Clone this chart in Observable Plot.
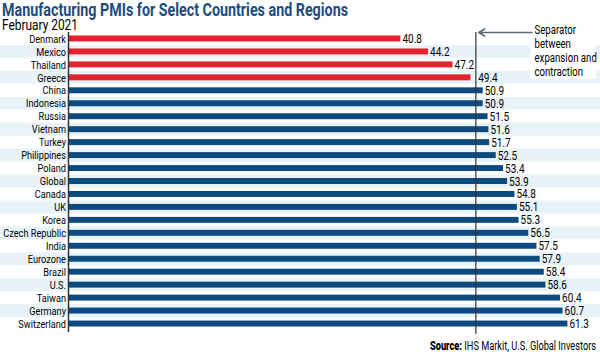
<!DOCTYPE html>
<html>
<head>
<meta charset="utf-8">
<script src="https://cdn.jsdelivr.net/npm/d3@7"></script>
<script src="https://cdn.jsdelivr.net/npm/@observablehq/plot@0.6"></script>
<style>
  html, body { margin: 0; padding: 0; background: #fff; }
  body { width: 600px; height: 354px; overflow: hidden; position: relative; font-family: Roboto, sans-serif; }
  .fit { position: absolute; white-space: nowrap; transform-origin: 0 0; }
  #title { left: 2px; top: 0px; font-weight: bold; font-size: 18px; line-height: 20px; color: #1c4c7d; }
  #subtitle { left: 2px; top: 18px; font-size: 14.5px; line-height: 16px; color: #000; }
  #chart { position: absolute; left: 0; top: 20px; }
  #chart svg { display: block; }
  #caption { top: 339px; font-size: 12.5px; line-height: 14px; color: #000; }
  #caption b { font-weight: 900; }
</style>
</head>
<body>
<div id="chart"></div>
<div id="title" class="fit">Manufacturing PMIs for Select Countries and Regions</div>
<div id="subtitle" class="fit">February 2021</div>
<div id="caption" class="fit"><b>Source:</b> IHS Markit, U.S. Global Investors</div>
<script>
const countries = ["Denmark","Mexico","Thailand","Greece","China","Indonesia","Russia","Vietnam","Turkey","Philippines","Poland","Global","Canada","UK","Korea","Czech Republic","India","Eurozone","Brazil","U.S.","Taiwan","Germany","Switzerland"];
const values = [40.8,44.2,47.2,49.4,50.9,50.9,51.5,51.6,51.7,52.5,53.4,53.9,54.8,55.1,55.3,56.5,57.5,57.9,58.4,58.6,60.4,60.7,61.3];
const separator = [50];
const annotation = ["Separator\nbetween\nexpansion and\ncontraction"];

const red = "#e3222d", blue = "#0d4a7f", band = "#e8f3f8";
const data = countries.map((c, i) => ({country: c, value: values[i]}));
const xMax = 65.3;
const stripes = countries.filter((d, i) => i % 2 === 1);
const arrowData = [{from: 56.9, to: separator[0] + 0.35, row: countries[0]}];
const sep = separator[0];
// a label that would run into the separator line is pushed just past it
const labelX = d => (d.value < sep && d.value > sep - 1.5) ? sep + 0.1 : d.value;

const chart = Plot.plot({
  width: 600,
  height: 314,
  marginTop: 12,
  marginBottom: 4,
  marginLeft: 68,
  marginRight: 0,
  style: {background: "transparent", fontFamily: "Roboto, sans-serif", fontSize: "11.5px", color: "#000"},
  x: {domain: [0, xMax], axis: null},
  y: {domain: countries, padding: 0, round: false, axis: null},
  marks: [
    Plot.barX(stripes, {y: d => d, x1: 0, x2: xMax, insetLeft: -70, fill: band}),
    Plot.barX(["Mexico"], {y: d => d, x1: 56.75, x2: 64.85, fill: "#fff"}),
    Plot.barX(["Greece"], {y: d => d, x1: 56.75, x2: 64.85, insetBottom: 5, fill: "#fff"}),
    Plot.barX(data, {y: "country", x: "value", fill: d => d.value < sep ? red : blue, insetTop: 3.5, insetBottom: 3.5}),
    Plot.text(data, {y: "country", x: labelX, text: d => d.value.toFixed(1), textAnchor: "start", dx: 1.5, fontSize: 12.5}),
    Plot.text(countries, {y: d => d, text: d => d, frameAnchor: "left", textAnchor: "end", dx: -2.5, fontSize: 11.5}),
    Plot.ruleX([0], {stroke: "#333", strokeWidth: 1.5, insetBottom: -2}),
    Plot.ruleX(separator, {stroke: "#333", strokeWidth: 1.2, insetBottom: -4}),
    Plot.arrow(arrowData, {x1: "from", x2: "to", y1: "row", y2: "row", dy: -6.5, stroke: "#5c6b78", strokeWidth: 1.5, headLength: 7, bend: 0}),
    Plot.text(annotation, {x: 57.2, frameAnchor: "top", textAnchor: "start", lineAnchor: "top", lineHeight: 1.1, dy: -8, fontSize: 12.5, fill: "#000"})
  ]
});
document.getElementById("chart").appendChild(chart);

// condense SVG texts (the reference uses a condensed face)
chart.querySelectorAll("text").forEach(t => {
  const spans = t.querySelectorAll("tspan");
  const multi = spans.length > 0;
  const targets = multi ? Array.from(spans) : [t];
  targets.forEach(el => {
    const L = el.getComputedTextLength();
    if (L > 0) {
      el.setAttribute("textLength", (L * (multi ? 0.77 : 0.8)).toFixed(2));
      el.setAttribute("lengthAdjust", "spacingAndGlyphs");
    }
  });
});

// condense HTML texts to the reference widths
function fit(id, width, right) {
  const el = document.getElementById(id);
  const w = el.getBoundingClientRect().width;
  const s = width / w;
  el.style.transform = `scaleX(${s})`;
  if (right != null) el.style.left = (right - width) + "px";
}
fit("title", 346);
fit("subtitle", 76);
fit("caption", 166, 596);
</script>
</body>
</html>
